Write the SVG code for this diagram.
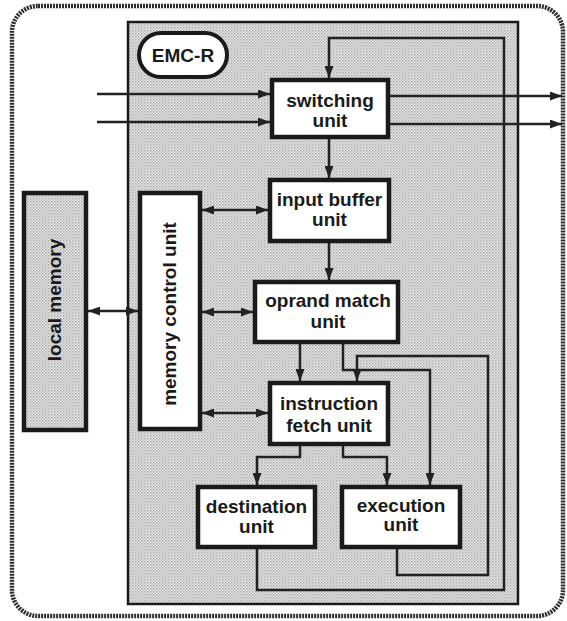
<svg xmlns="http://www.w3.org/2000/svg" width="567" height="621" viewBox="0 0 567 621">
<defs>
<pattern id="dots" width="3" height="3" patternUnits="userSpaceOnUse">
<rect width="3" height="3" fill="#e8e8e8"/>
<rect x="0" y="0" width="1.5" height="1.5" fill="#a8a8a8"/>
<rect x="1.5" y="1.5" width="1.5" height="1.5" fill="#c0c0c0"/>
</pattern>
<marker id="ah" viewBox="0 0 12 9" refX="12" refY="4.5" markerWidth="12" markerHeight="9" markerUnits="userSpaceOnUse" orient="auto-start-reverse">
<path d="M0,0 L12,4.5 L0,9 z" fill="#222"/>
</marker>
<style>
.box{fill:#fff;stroke:#1a1a1a;stroke-width:4.5}
.lbl{font-family:"Liberation Sans",Arial,sans-serif;font-weight:bold;font-size:19px;fill:#1a1a1a;text-anchor:middle}
.c{fill:none;stroke:#222;stroke-width:2.5}
.a{marker-end:url(#ah)}
.d{marker-start:url(#ah);marker-end:url(#ah)}
</style>
</defs>
<rect x="0" y="0" width="567" height="621" fill="#fff"/>
<rect id="outer" x="12" y="6" width="551" height="610" rx="26" ry="26" fill="#fff" stroke="#2e2e2e" stroke-width="4.5" stroke-dasharray="2 1"/>
<g id="emc-r">
<rect x="128" y="22" width="390" height="582" fill="url(#dots)" stroke="#1a1a1a" stroke-width="2.5"/>
<rect x="139" y="33" width="88" height="44" rx="22" ry="22" fill="#fff" stroke="#1a1a1a" stroke-width="4"/>
<text class="lbl" x="183" y="62">EMC-R</text>
</g>
<g id="connectors">
<line class="c a" x1="97" y1="94" x2="270" y2="94"/>
<line class="c a" x1="97" y1="122" x2="270" y2="122"/>
<line class="c a" x1="390" y1="96" x2="562" y2="96"/>
<line class="c a" x1="390" y1="124" x2="562" y2="124"/>
<line class="c a" x1="329" y1="139" x2="329" y2="178"/>
<line class="c a" x1="329" y1="243" x2="329" y2="280"/>
<line class="c a" x1="300" y1="344" x2="300" y2="381"/>
<polyline class="c a" points="343,344 343,370 430,370 430,485"/>
<polyline class="c a" points="397,549 397,575 488,575 488,356 357,356 357,381"/>
<polyline class="c a" points="257,549 257,590 504,590 504,38 329,38 329,78"/>
<polyline class="c a" points="300,446 300,457 257,457 257,485"/>
<polyline class="c a" points="343,446 343,457 387,457 387,485"/>
<line class="c d" x1="202" y1="210" x2="268" y2="210"/>
<line class="c d" x1="202" y1="312" x2="253" y2="312"/>
<line class="c d" x1="202" y1="413" x2="268" y2="413"/>
<line class="c d" x1="88" y1="311" x2="138" y2="311"/>
</g>
<g id="local-memory">
<rect x="24" y="193" width="62" height="237" fill="url(#dots)" stroke="#1a1a1a" stroke-width="4.5"/>
<text class="lbl" transform="translate(61,300) rotate(-90)">local memory</text>
</g>
<g id="memory-control-unit">
<rect class="box" x="140" y="193" width="60" height="236"/>
<text class="lbl" transform="translate(176,314) rotate(-90)">memory control unit</text>
</g>
<g id="switching-unit">
<rect class="box" x="272" y="80" width="116" height="57"/>
<text class="lbl" x="330" y="107">switching</text>
<text class="lbl" x="330" y="127">unit</text>
</g>
<g id="input-buffer-unit">
<rect class="box" x="270" y="180" width="119" height="61"/>
<text class="lbl" x="329.5" y="206">input buffer</text>
<text class="lbl" x="329.5" y="226">unit</text>
</g>
<g id="oprand-match-unit">
<rect class="box" x="255" y="282" width="143" height="60"/>
<text class="lbl" x="328" y="307">oprand match</text>
<text class="lbl" x="328" y="328">unit</text>
</g>
<g id="instruction-fetch-unit">
<rect class="box" x="270" y="383" width="118" height="61"/>
<text class="lbl" x="329" y="410">instruction</text>
<text class="lbl" x="329" y="432">fetch unit</text>
</g>
<g id="destination-unit">
<rect class="box" x="198" y="487" width="117" height="60"/>
<text class="lbl" x="256.5" y="513">destination</text>
<text class="lbl" x="256.5" y="533">unit</text>
</g>
<g id="execution-unit">
<rect class="box" x="342" y="487" width="118" height="60"/>
<text class="lbl" x="401" y="512">execution</text>
<text class="lbl" x="401" y="531">unit</text>
</g>
</svg>
